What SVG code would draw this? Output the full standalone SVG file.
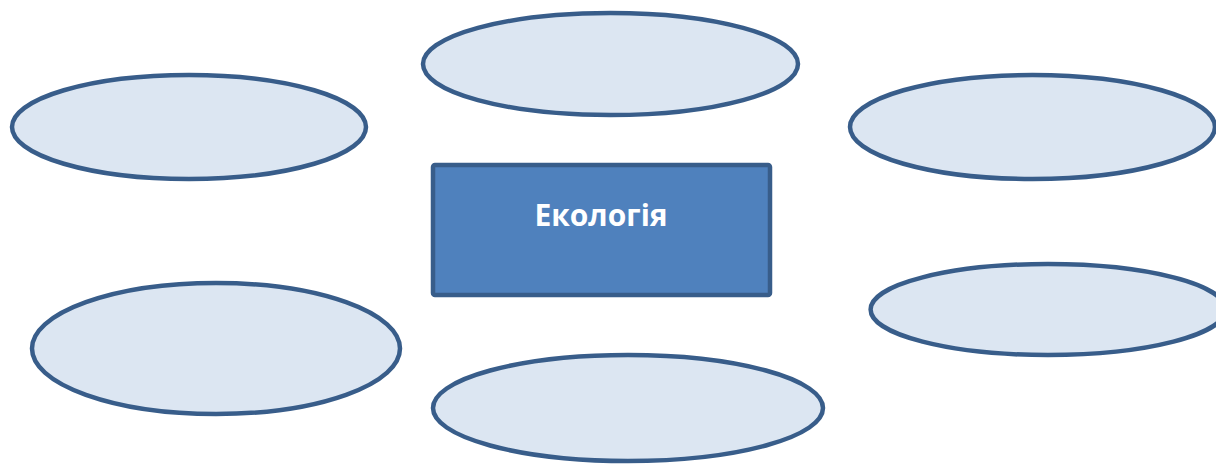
<svg xmlns="http://www.w3.org/2000/svg" width="1216" height="466" viewBox="0 0 1216 466">
<style>
.oval{fill:#dce6f2;stroke:#385d8a;stroke-width:4.5}
.main{fill:#4f81bd;stroke:#385d8a;stroke-width:4.5}
.lbl{font-family:"Open Sans","Noto Sans",sans-serif;font-weight:bold;font-size:30px;fill:#ffffff;text-anchor:middle}
</style>
<rect width="1216" height="466" fill="#ffffff"/>
<g id="connectors"></g>
<g id="center">
<rect class="main" x="433" y="165" width="337" height="130" rx="2"/>
<text class="lbl" x="601" y="225.5">Екологія</text>
</g>
<g id="oval-top-left"><ellipse class="oval" cx="189" cy="127" rx="177" ry="52"/></g>
<g id="oval-top"><ellipse class="oval" cx="610.5" cy="64" rx="187.5" ry="51"/></g>
<g id="oval-top-right"><ellipse class="oval" cx="1032.5" cy="127" rx="182.5" ry="52"/></g>
<g id="oval-bottom-left"><ellipse class="oval" cx="216" cy="348.5" rx="184" ry="65.5"/></g>
<g id="oval-bottom"><ellipse class="oval" cx="628" cy="408" rx="195" ry="53"/></g>
<g id="oval-right"><ellipse class="oval" cx="1048" cy="309.5" rx="177.4" ry="45.5"/></g>
</svg>
